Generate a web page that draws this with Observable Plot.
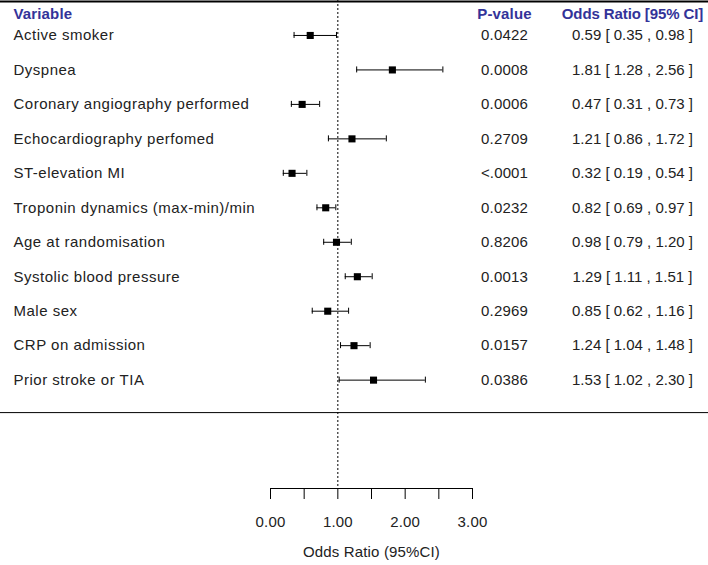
<!DOCTYPE html>
<html><head><meta charset="utf-8">
<script src="https://cdn.jsdelivr.net/npm/d3@7"></script>
<script src="https://cdn.jsdelivr.net/npm/@observablehq/plot@0.6"></script>
<style>
body{margin:0;background:#fff;}
#chart svg text{letter-spacing:0.15px;}
#chart svg .varlab text{letter-spacing:0.5px;}
#chart svg .orlab text{letter-spacing:0px;}
#chart svg .orhead text{letter-spacing:-0.1px;}
</style></head><body><div id="chart"></div>
<script>
const variables = ["Active smoker","Dyspnea","Coronary angiography performed","Echocardiography perfomed","ST-elevation MI","Troponin dynamics (max-min)/min","Age at randomisation","Systolic blood pressure","Male sex","CRP on admission","Prior stroke or TIA"];
const pValues = ["0.0422","0.0008","0.0006","0.2709","<.0001","0.0232","0.8206","0.0013","0.2969","0.0157","0.0386"];
const oddsRatio = [0.59,1.81,0.47,1.21,0.32,0.82,0.98,1.29,0.85,1.24,1.53];
const ciLow = [0.35,1.28,0.31,0.86,0.19,0.69,0.79,1.11,0.62,1.04,1.02];
const ciHigh = [0.98,2.56,0.73,1.72,0.54,0.97,1.20,1.51,1.16,1.48,2.30];
const xTicks = [0,0.5,1,1.5,2,2.5,3];
const headerVariable = "Variable";
const headerP = "P-value";
const headerOR = "Odds Ratio [95% CI]";
const axisTitle = "Odds Ratio (95%CI)";

const rows = variables.map((v,i)=>({variable:v,row:i+1,p:pValues[i],or:oddsRatio[i],lo:ciLow[i],hi:ciHigh[i],
  label:`${oddsRatio[i].toFixed(2)} [ ${ciLow[i].toFixed(2)} , ${ciHigh[i].toFixed(2)} ]`}));

const W = 708, H = 565, ML = 270, MR = 236;
const blue = "#333399";
const ink = "#222";

const plot = Plot.plot({
  width: W, height: H,
  marginLeft: ML, marginRight: MR, marginTop: 0, marginBottom: 77,
  style: {fontFamily: "'Liberation Sans', Arial, sans-serif", fontSize: "15px", color: ink, background: "#fff"},
  x: {domain: [0, 3]},
  y: {domain: [0, 12], range: [0.5, 414.1], axis: null},
  marks: [
    Plot.ruleY([0], {stroke: "#000", strokeWidth: 2, dy: 0.5, insetLeft: -ML, insetRight: -MR}),
    Plot.ruleY([variables.length + 1], {stroke: "#000", strokeWidth: 1, dy: -2, insetLeft: -ML, insetRight: -MR}),
    Plot.ruleX([1], {stroke: "#000", strokeDasharray: "2,2"}),
    Plot.ruleY(rows, {x1: "lo", x2: "hi", y: "row", stroke: "#000"}),
    Plot.ruleX(rows, {x: "lo", y1: "row", y2: "row", insetTop: -3, insetBottom: -3, stroke: "#000"}),
    Plot.ruleX(rows, {x: "hi", y1: "row", y2: "row", insetTop: -3, insetBottom: -3, stroke: "#000"}),
    Plot.dot(rows, {x: "or", y: "row", symbol: "square", r: 4, fill: "#000"}),
    Plot.text(rows, {y: "row", text: "variable", frameAnchor: "left", dx: 13 - ML, textAnchor: "start", fill: ink, className: "varlab"}),
    Plot.text(rows, {y: "row", text: "p", frameAnchor: "left", dx: 504 - ML, textAnchor: "middle", fill: ink}),
    Plot.text(rows, {y: "row", text: "label", frameAnchor: "left", dx: 632 - ML, textAnchor: "middle", fill: ink, className: "orlab"}),
    Plot.text([headerVariable], {frameAnchor: "top-left", lineAnchor: "middle", dx: 13 - ML, dy: 14, textAnchor: "start", fill: blue, fontWeight: "bold"}),
    Plot.text([headerP], {frameAnchor: "top-left", lineAnchor: "middle", dx: 504 - ML, dy: 14, textAnchor: "middle", fill: blue, fontWeight: "bold"}),
    Plot.text([headerOR], {frameAnchor: "top-left", lineAnchor: "middle", dx: 632 - ML, dy: 14, textAnchor: "middle", fill: blue, fontWeight: "bold", className: "orhead"}),
    Plot.frame({anchor: "bottom", stroke: "#000"}),
    Plot.axisX(xTicks, {tickSize: 11, tickPadding: 17, tickFormat: d => Number.isInteger(d) ? d.toFixed(2) : "", label: null, fontSize: 15, stroke: "#000", fill: ink}),
    Plot.text([axisTitle], {frameAnchor: "bottom", lineAnchor: "middle", dy: 64, fill: ink})
  ]
});
document.getElementById("chart").appendChild(plot);
</script></body></html>
